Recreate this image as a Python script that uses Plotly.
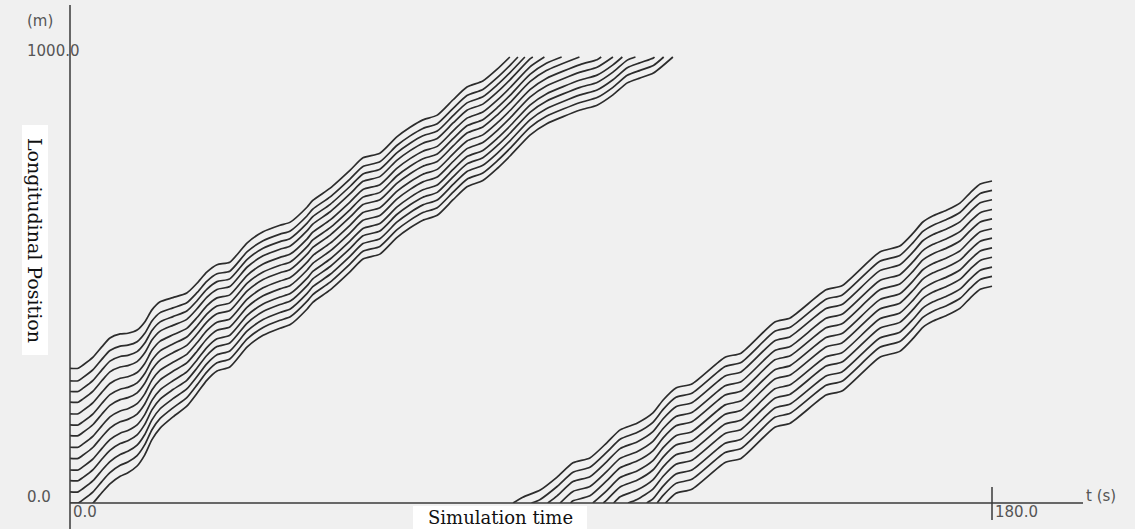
import numpy as np
import plotly.graph_objects as go

# ---------------- data ----------------
# Platoon 1: queue standing on the road at t = 0 (position of each vehicle, m)
p1_start_pos = [302, 274, 250, 226, 200, 175, 151, 125, 100, 74, 50, 25, 0, -25]
# trajectory of the last vehicle of platoon 1 (time s, position m)
p1_tail_t = [0, 1.6, 2.5, 4.5, 6.2, 7.8, 9.8, 11.3, 13.1, 14.6, 16.0, 17.6,
             20.1, 22.8, 24.8, 26.7, 28.7, 31.2, 34.6, 37.7, 41.0, 43.0, 46.3,
             47.4, 50.8, 54.7, 57.2, 60.5, 63.8, 66.4, 68.9, 71.7, 74.8, 77.5,
             80.6, 83.4, 85.9, 89.8, 93.0, 99.6, 102.9, 106.0, 108.8, 111.3,
             113.9, 117.7]
p1_tail_x = [-25, -25, -18, 0, 23, 43, 60, 68, 83, 108, 142, 168,
             193, 217, 246, 275, 296, 305, 350, 376, 392, 400, 435,
             450, 478, 519, 547, 558, 595, 617, 634, 645, 680, 709,
             723, 750, 778, 825, 850, 881, 892, 915, 942, 953,
             964, 1000]
# length of the platoon relative to its standstill length
p1_band_t = [0, 8, 14, 18, 21, 24, 30, 45, 86, 120]
p1_band_ratio = [1.0, 1.0, 0.92, 0.86, 0.80, 0.76, 0.72, 0.70, 0.68, 0.68]

# Platoon 2: first vehicle entering at x = 0 (time s, position m)
p2_lead_t = [86.5, 88.4, 91.8, 95.1, 98.2, 101.5, 104.8, 107.4, 110.7, 113.8,
             115.8, 118.3, 121.4, 127.9, 131.0, 137.6, 140.6, 147.6, 150.7,
             158.1, 162.0, 164.6, 166.5, 168.5, 171.2, 173.8, 175.7, 177.7, 180.0]
p2_lead_x = [0, 13, 29, 58, 90, 101, 135, 164, 179, 202,
             231, 258, 267, 327, 336, 406, 415, 478, 487,
             563, 576, 605, 630, 644, 657, 673, 695, 715, 722]
# positions of the platoon-2 vehicles at the end of the simulation (m)
p2_end_pos = [722, 701, 680, 658, 637, 615, 594, 572, 551, 529, 508, 486]

x_tick_vals = [0, 180]
x_tick_text = ["0.0", "180.0"]
y_tick_vals = [0, 1000]
y_tick_text = ["0.0", "1000.0"]
T_END = 180.0
ROAD_END = 1000.0

# ---------------- geometry ----------------
W, H = 1135, 529
ML, MR, MT, MB = 70, 52, 5, 26
PW, PH = W - ML - MR, H - MT - MB
X_MAX = T_END * PW / 922.0
Y_MAX = ROAD_END * PH / 446.0


def px(xp):
    return (xp - ML) / PW


def py(yp):
    return (H - MB - yp) / PH


LINE = dict(color="#2c2c2c", width=1.7, shape="spline", smoothing=0.6)
fig = go.Figure()


def add_path(t_v, x_v):
    fig.add_trace(go.Scatter(x=t_v, y=x_v, mode="lines", line=LINE,
                             hoverinfo="skip", showlegend=False))


# platoon 1: every vehicle keeps its share of the platoon length,
# which shrinks while the queue discharges
tt = np.array(p1_tail_t, dtype=float)
tx = np.array(p1_tail_x, dtype=float)
ratio = np.interp(tt, p1_band_t, p1_band_ratio)
for x0 in p1_start_pos:
    xv = tx + (x0 - p1_tail_x[0]) * ratio
    k = int(np.argmax(xv >= ROAD_END))
    # stop the trajectory where the vehicle leaves the section
    t_exit = np.interp(ROAD_END, xv[k - 1:k + 1], tt[k - 1:k + 1])
    add_path(np.append(tt[:k], t_exit), np.append(xv[:k], ROAD_END))

# platoon 2: followers keep a constant distance behind the first vehicle
lt = np.array(p2_lead_t, dtype=float)
lx = np.array(p2_lead_x, dtype=float)
for xe in p2_end_pos:
    gap = p2_lead_x[-1] - xe
    xv = lx - gap
    keep = xv > 0
    t_in = np.interp(gap, lx, lt)
    add_path(np.insert(lt[keep], 0, t_in), np.insert(xv[keep], 0, 0.0))

AX = dict(color="#3a3a3a", width=1.5)
shapes = [
    # horizontal axis
    dict(type="line", xref="paper", yref="paper", x0=0, x1=1, y0=0, y1=0, line=AX),
    # vertical axis, running down to the bottom edge
    dict(type="line", xref="paper", yref="paper", x0=0, x1=0, y0=py(H), y1=1, line=AX),
    # end-of-simulation tick
    dict(type="line", xref="paper", yref="paper", x0=T_END / X_MAX, x1=T_END / X_MAX,
         y0=py(520), y1=py(487), line=AX),
    # label backgrounds
    dict(type="rect", xref="paper", yref="paper", x0=px(413), x1=px(587),
         y0=py(H + 2), y1=py(506), fillcolor="white", line=dict(width=0)),
    dict(type="rect", xref="paper", yref="paper", x0=px(22), x1=px(48),
         y0=py(355), y1=py(125), fillcolor="white", line=dict(width=0)),
]

TICK_FONT = dict(family="DejaVu Sans", size=15, color="#555555")
LABEL_FONT = dict(family="DejaVu Serif", size=18, color="#111111")
ann = []
for v, s in zip(x_tick_vals, x_tick_text):
    ann.append(dict(x=v, xref="x", y=py(512), yref="paper", text=s, showarrow=False,
                    xanchor="left", yanchor="middle", xshift=1, font=TICK_FONT))
for v, s in zip(y_tick_vals, y_tick_text):
    ann.append(dict(x=px(25), xref="paper", y=v, yref="y", text=s, showarrow=False,
                    xanchor="left", yanchor="middle", yshift=6, font=TICK_FONT))
ann += [
    dict(x=px(25), y=py(21), xref="paper", yref="paper", text="(m)", showarrow=False,
         xanchor="left", yanchor="middle", font=TICK_FONT),
    dict(x=px(1084), y=py(496), xref="paper", yref="paper", text="t (s)", showarrow=False,
         xanchor="left", yanchor="middle", font=TICK_FONT),
    dict(x=px(500), y=py(517), xref="paper", yref="paper", text="Simulation time",
         showarrow=False, xanchor="center", yanchor="middle", font=LABEL_FONT),
    dict(x=px(35), y=py(240), xref="paper", yref="paper", text="Longitudinal Position",
         showarrow=False, xanchor="center", yanchor="middle", textangle=90,
         font=dict(family="DejaVu Serif", size=19, color="#111111")),
]

fig.update_layout(
    width=W, height=H,
    margin=dict(l=ML, r=MR, t=MT, b=MB, pad=0),
    paper_bgcolor="#f0f0f0", plot_bgcolor="#f0f0f0",
    xaxis=dict(range=[0, X_MAX], showgrid=False, zeroline=False, showline=False,
               showticklabels=False, ticks=""),
    yaxis=dict(range=[0, Y_MAX], showgrid=False, zeroline=False, showline=False,
               showticklabels=False, ticks=""),
    shapes=shapes, annotations=ann,
)

fig.write_html("out.html")
